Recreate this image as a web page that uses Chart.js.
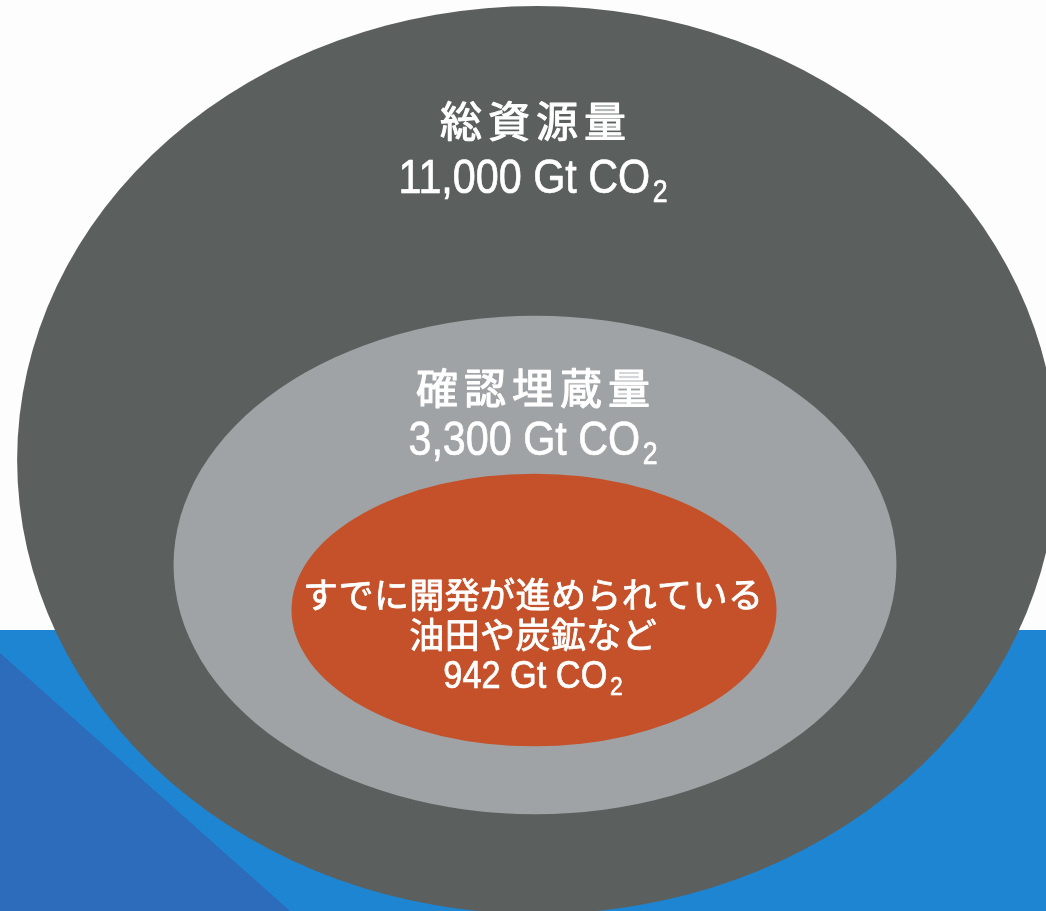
<!DOCTYPE html>
<html>
<head>
<meta charset="utf-8">
<script src="https://cdn.jsdelivr.net/npm/chart.js@4.4.1/dist/chart.umd.min.js"></script>
<style>
  html, body { margin: 0; padding: 0; background: #fefdfd; overflow: hidden; }
  canvas { display: block; }
</style>
</head>
<body>
<canvas id="reserves" width="1046" height="911"></canvas>
<script>
// Fossil fuel stock expressed as potential CO2 emissions (Gt CO2)
const categories = ['総資源量', '確認埋蔵量', 'すでに開発が進められている油田や炭鉱など'];
const labelLines = [['総資源量'], ['確認埋蔵量'], ['すでに開発が進められている', '油田や炭鉱など']];
const valuesGt = [11000, 3300, 942];
const unitMain = 'Gt CO';
const unitSub = '2';

// ---- layout (scale units == canvas pixels) ----
const W = 1046, H = 911;
const centerX = [537, 535, 534];
const centerY = [460, 565, 610];
const aspect = [1.145, 1.45, 1.78];      // horizontal / vertical radius
const areaPerValue = 138;                // ellipse rx*ry = areaPerValue * value^sizeExp
const sizeExp = 0.8;
const textX = 533;
const titleY = [[121], [388], [595, 635]];
const valueBaseY = [193, 455, 688];

// ---- styles ----
const fills = ['#5b605f', '#a0a3a5', '#c4512a'];
const cjk = '"Noto Sans CJK JP", "Noto Sans", sans-serif';
const latin = '"Liberation Sans", Arial, sans-serif';
const titleSize = [42, 42, 35];
const titleSpacing = [6, 6, 0.4];
const titleStroke = [1.1, 1.1, 0.8];     // slight thickening towards a medium weight
const valueSize = [48, 48, 39];
const valueSquash = [0.86, 0.86, 0.88];  // narrow letterforms of the value lines
const valueStroke = 0.7;
const subSize = [31, 31, 26];
const subDrop = [9, 9, 7];
const seaTop = 630;
const bandTop = 653, bandBottomX = 290;

function ellipseRadii(i) {
  const area = areaPerValue * Math.pow(valuesGt[i], sizeExp);
  return { rx: Math.sqrt(area * aspect[i]), ry: Math.sqrt(area / aspect[i]) };
}

function paintText(ctx, text, x, y, stroke) {
  ctx.fillText(text, x, y);
  if (stroke > 0) { ctx.lineWidth = stroke; ctx.strokeText(text, x, y); }
}

function drawSpaced(ctx, text, cx, cy, spacing, stroke) {
  const chars = Array.from(text);
  const widths = chars.map(c => ctx.measureText(c).width);
  const total = widths.reduce((a, b) => a + b, 0) + spacing * (chars.length - 1);
  let x = cx - total / 2;
  ctx.textAlign = 'left';
  chars.forEach((c, k) => { paintText(ctx, c, x, cy, stroke); x += widths[k] + spacing; });
}

const backdrop = {
  id: 'backdrop',
  beforeDatasetsDraw(chart) {
    const { ctx, scales: { x, y } } = chart;
    ctx.save();
    ctx.fillStyle = '#fefdfd';
    ctx.fillRect(x.getPixelForValue(0), y.getPixelForValue(0), x.getPixelForValue(W), y.getPixelForValue(H));
    ctx.fillStyle = '#1e85d3';
    ctx.fillRect(x.getPixelForValue(0), y.getPixelForValue(seaTop),
                 x.getPixelForValue(W) - x.getPixelForValue(0), y.getPixelForValue(H) - y.getPixelForValue(seaTop));
    ctx.fillStyle = '#2d6bbb';
    ctx.beginPath();
    ctx.moveTo(x.getPixelForValue(0), y.getPixelForValue(bandTop));
    ctx.lineTo(x.getPixelForValue(bandBottomX), y.getPixelForValue(H));
    ctx.lineTo(x.getPixelForValue(0), y.getPixelForValue(H));
    ctx.closePath();
    ctx.fill();
    ctx.restore();
  }
};

const ellipses = {
  id: 'ellipses',
  afterDatasetsDraw(chart) {
    const { ctx, scales: { x, y } } = chart;
    const meta = chart.getDatasetMeta(0);
    ctx.save();
    meta.data.forEach((pt, i) => {
      const { rx, ry } = ellipseRadii(i);
      const pxr = Math.abs(x.getPixelForValue(centerX[i] + rx) - pt.x);
      const pyr = Math.abs(y.getPixelForValue(centerY[i] + ry) - pt.y);
      ctx.fillStyle = fills[i];
      ctx.beginPath();
      ctx.ellipse(pt.x, pt.y, pxr, pyr, 0, 0, Math.PI * 2);
      ctx.fill();
    });
    ctx.restore();
  }
};

const labels = {
  id: 'labels',
  afterDraw(chart) {
    const { ctx, scales: { x, y } } = chart;
    ctx.save();
    ctx.fillStyle = '#ffffff';
    ctx.strokeStyle = '#ffffff';
    ctx.lineJoin = 'round';
    const tx = x.getPixelForValue(textX);
    categories.forEach((cat, i) => {
      ctx.font = `400 ${titleSize[i]}px ${cjk}`;
      ctx.textBaseline = 'middle';
      labelLines[i].forEach((line, k) => {
        drawSpaced(ctx, line, tx, y.getPixelForValue(titleY[i][k]), titleSpacing[i], titleStroke[i]);
      });
      // value line: "<value> Gt CO" with a lowered, smaller "2"
      const main = valuesGt[i].toLocaleString('en-US') + ' ' + unitMain;
      ctx.textBaseline = 'alphabetic';
      ctx.textAlign = 'left';
      ctx.font = `${valueSize[i]}px ${latin}`;
      const wMain = ctx.measureText(main).width;
      ctx.font = `${subSize[i]}px ${latin}`;
      const wSub = ctx.measureText(unitSub).width;
      const gap = 3;
      const total = wMain + gap + wSub;
      const base = y.getPixelForValue(valueBaseY[i]);
      ctx.save();
      ctx.translate(tx, base);
      ctx.scale(valueSquash[i], 1);
      ctx.font = `${valueSize[i]}px ${latin}`;
      paintText(ctx, main, -total / 2, 0, valueStroke);
      ctx.font = `${subSize[i]}px ${latin}`;
      paintText(ctx, unitSub, -total / 2 + wMain + gap, subDrop[i], valueStroke);
      ctx.restore();
    });
    ctx.restore();
  }
};

new Chart(document.getElementById('reserves'), {
  type: 'scatter',
  data: {
    labels: categories,
    datasets: [{
      label: 'Gt CO2',
      data: valuesGt.map((v, i) => ({ x: centerX[i], y: centerY[i], v })),
      pointRadius: 0,
      pointHoverRadius: 0
    }]
  },
  options: {
    responsive: false,
    animation: false,
    devicePixelRatio: 1,
    layout: { padding: 0 },
    events: [],
    scales: {
      x: { type: 'linear', min: 0, max: W, display: false },
      y: { type: 'linear', min: 0, max: H, reverse: true, display: false }
    },
    plugins: { legend: { display: false }, tooltip: { enabled: false } }
  },
  plugins: [backdrop, ellipses, labels]
});
</script>
</body>
</html>
